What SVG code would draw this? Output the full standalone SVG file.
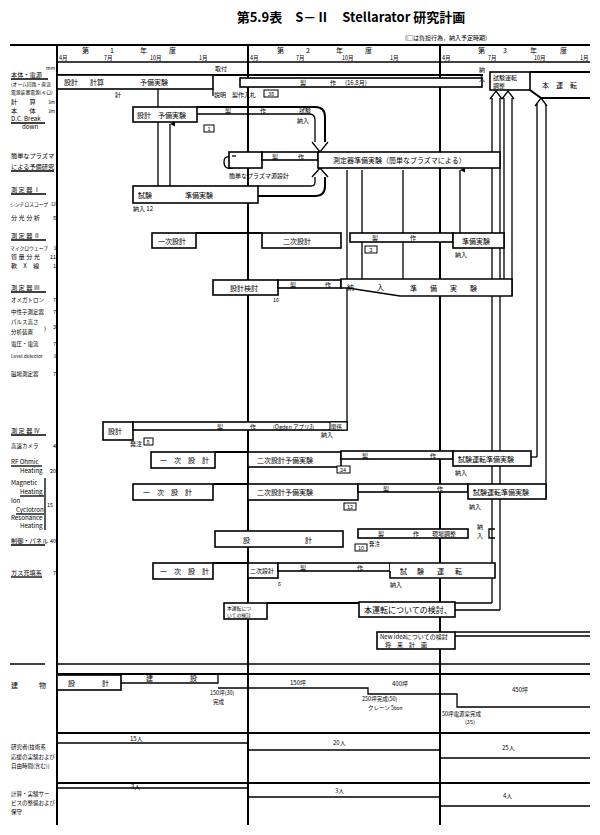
<svg xmlns="http://www.w3.org/2000/svg" width="600" height="835" viewBox="0 0 600 835">
<style>
.ln{stroke:#000;fill:none;stroke-width:1.3}
.tk{stroke:#000;fill:none;stroke-width:2}
.bx{fill:#fff;stroke:#000;stroke-width:1.6}
.sb{fill:#fff;stroke:#000;stroke-width:1}
text{font-family:"Noto Sans CJK JP","Noto Sans CJK SC",sans-serif;fill:#000;font-size:7px}
.s{font-size:5.5px}
.x{font-size:4.8px}
.m{font-size:6px}
.lb{font-size:6.2px}
.ti{font-size:13px;font-weight:bold}
.c{text-anchor:middle}
.e{text-anchor:end}
</style>
<defs>
<marker id="ua" viewBox="0 0 6 6" refX="3" refY="0" markerWidth="5" markerHeight="5" orient="auto-start-reverse" markerUnits="userSpaceOnUse">
<path d="M0,6 L3,0 L6,6 Z" fill="#000"/>
</marker>
</defs>
<rect width="600" height="835" fill="#fff"/>

<g id="title">
<text class="ti c" x="351" y="22">第5.9表　S－Ⅱ　Stellarator 研究計画</text>
<text class="m" x="405" y="40">(□は負担行為，納入予定時期)</text>
</g>

<g id="header">
<text x="82" y="53">第</text><text x="110" y="53">1</text><text x="140" y="53">年</text><text x="169" y="53">度</text>
<text x="277" y="53">第</text><text x="306" y="53">2</text><text x="336" y="53">年</text><text x="365" y="53">度</text>
<text x="478" y="53">第</text><text x="503" y="53">3</text><text x="530" y="53">年</text><text x="560" y="53">度</text>
<text class="s" x="59" y="60">4月</text><text class="s" x="104" y="60">7月</text><text class="s" x="150" y="60">10月</text><text class="s" x="199" y="60">1月</text>
<text class="s" x="250" y="60">4月</text><text class="s" x="296" y="60">7月</text><text class="s" x="342" y="60">10月</text><text class="s" x="390" y="60">1月</text>
<text class="s" x="442" y="60">4月</text><text class="s" x="488" y="60">7月</text><text class="s" x="534" y="60">10月</text><text class="s" x="580" y="60">1月</text>
</g>

<g id="connectors">
<path class="tk" d="M10,45 H590"/>
<path class="ln" d="M57,62 H590"/>
<path class="tk" d="M57,45 V825"/>
<path class="tk" d="M248,45 V825"/>
<path class="tk" d="M440,45 V825"/>
<path class="tk" d="M57,75 H483"/>
<path class="ln" d="M213,89 V96 M158,89 V107 M158,122 V186"/>
<path class="ln" d="M170,186 V124" marker-end="url(#ua)"/>
<path class="ln" d="M347,422 V170 M362,280 V170 M403,280 V170 M460,233 V170" marker-end="url(#ua)"/>
<path class="ln" d="M490,99 L496,91 L502,99 M492,98 V603 M500,98 V610"/>
<path class="ln" d="M502,99 L508,91 L514,99 M504,98 V279 M512,98 V296"/>
<path class="ln" d="M535,106 L541,98 L547,106 M537,104 V457 M546,104 V498"/>
<path class="ln" d="M531,457 H537"/>
<path class="ln" d="M495,529 H489 V538 H495"/>
<path class="ln" d="M455,603 H492 M455,610 H500"/>
<path class="tk" d="M197,107 H315 Q325,107 325,117 V142"/>
<path class="ln" d="M197,114 H309 Q315,114 315,120 V142"/>
<path class="ln" d="M312,142 L320,152 L328,142"/>
<path class="ln" d="M258,186 H311 Q315,186 315,182 V177"/>
<path class="tk" d="M258,196 H315 Q325,196 325,186 V177"/>
<path class="ln" d="M312,177 L320,168 L328,177"/>
<path class="ln" d="M233,168 Q224,170 224,162 Q224,156 229,157"/>
<path class="tk" d="M196,233 H262 M215,452 H248 M213,484 H248 M213,563 H248 M267,603 H359"/>
<path class="ln" d="M455,632 H590 M455,636 H590"/>
<path class="ln" d="M10,664 H45 M57,664 H590"/>
<path class="tk" d="M57,674 H590"/>
<path class="ln" d="M121,683 H218 V675 M218,688 H368 V694 H457 V707 H590"/>
<path class="tk" d="M57,733 H590"/>
<path class="ln" d="M57,743 H248 V750 H440 V758 H590"/>
<path class="tk" d="M57,783 H590"/>
<path class="ln" d="M57,788 H248 V797 H440 V806 H590"/>
<path class="ln" d="M45,478 V530"/>
</g>

<g id="labels">
<text class="x" x="46" y="70">mm</text>
<text class="lb" x="11" y="77">本体・電源</text><path class="ln" d="M11,79 H48"/>
<text class="x" x="11" y="86">(オーム回路・直流</text>
<text class="x" x="11" y="94">電源装置電源(キロ)</text>
<text class="lb" x="11" y="104">計　　算</text><text class="x e" x="55" y="104">3m</text>
<text class="lb" x="11" y="113">本　　体</text><text class="x e" x="55" y="113">3m</text>
<text class="lb" x="11" y="121">D.C. Break</text><path class="ln" d="M11,123 H45"/>
<text class="lb" x="22" y="129">down</text>
<text class="lb" x="11" y="158">簡単なプラズマ</text>
<text class="lb" x="11" y="169">による予備研究</text><path class="ln" d="M11,171 H54"/>
<text class="lb" x="11" y="192">測 定 器 Ⅰ</text><path class="ln" d="M11,194 H46"/>
<text class="x" x="10" y="206">シンチロスコープ</text><text class="x e" x="56" y="206">12</text>
<text class="lb" x="11" y="220">分 光 分 析</text><text class="s e" x="56" y="220">8</text>
<text class="lb" x="11" y="238">測 定 器 Ⅱ</text><path class="ln" d="M11,240 H46"/>
<text class="x" x="10" y="250">マイクロウェーブ</text><text class="x e" x="56" y="250">3</text>
<text class="lb" x="11" y="259">質 量 分 光</text><text class="s e" x="56" y="259">11</text>
<text class="lb" x="11" y="268">軟　X　線</text><text class="s e" x="56" y="268">1</text>
<text class="lb" x="11" y="290">測 定 器 Ⅲ</text><path class="ln" d="M11,292 H46"/>
<text class="s" x="11" y="302">オメガトロン</text><text class="s e" x="56" y="302">7</text>
<text class="s" x="11" y="314">中性子測定器</text><text class="s e" x="56" y="314">7</text>
<text class="s" x="11" y="324">パルス高さ</text>
<text class="s" x="11" y="334">分析装置</text><text class="m" x="44" y="331">)</text><text class="s e" x="56" y="329">3</text>
<text class="s" x="11" y="346">電圧・電流</text><text class="s e" x="56" y="346">7</text>
<text class="x" x="11" y="358">Level detector</text><text class="x e" x="56" y="358">3</text>
<text class="s" x="11" y="376">磁場測定器</text><text class="s e" x="56" y="376">7</text>
<text class="lb" x="11" y="433">測 定 器 Ⅳ</text><path class="ln" d="M11,435 H46"/>
<text class="s" x="11" y="448">高速カメラ</text><text class="s e" x="56" y="448">4</text>
<text class="lb" x="11" y="464">RF Ohmic</text><path class="ln" d="M11,466 H42"/>
<text class="lb" x="20" y="473">Heating</text><text class="s e" x="56" y="473">20</text>
<text class="lb" x="11" y="485">Magnetic</text>
<text class="lb" x="20" y="494">Heating</text><path class="ln" d="M20,496 H44"/>
<text class="lb" x="11" y="503">Ion</text>
<text class="lb" x="16" y="512">Cyclotron</text><path class="ln" d="M16,514 H44"/>
<text class="lb" x="11" y="520">Resonance</text>
<text class="lb" x="20" y="528">Heating</text>
<text class="s" x="47" y="507">15</text>
<text class="lb" x="11" y="543">制御・パネル</text><path class="ln" d="M11,545 H45"/><text class="s e" x="56" y="543">40</text>
<text class="lb" x="11" y="575">ガス充填系</text><path class="ln" d="M11,577 H42"/><text class="s e" x="56" y="575">7</text>
<text x="11" y="688">建　　　物</text>
<text class="s" x="11" y="749">研究者(技術系</text>
<text class="s" x="11" y="759">応援の実験および</text>
<text class="s" x="11" y="768">自由時間(含む))</text>
<text class="s" x="11" y="796">計算・実験サー</text>
<text class="s" x="11" y="805">ビスの整備および</text>
<text class="s" x="11" y="814">保守</text>
</g>

<g id="n-honntai">
<rect class="bx" x="57" y="75" width="156" height="14"/>
<text x="64" y="85">設計</text><text x="90" y="85">計算</text><text x="140" y="85">予備実験</text>
<text class="m" x="215" y="71">取付</text>
<text class="m" x="115" y="97">計</text>
<text class="m" x="214" y="97">説明</text><text class="m" x="232" y="97">製作入札</text>
<rect class="sb" x="264" y="90" width="14" height="7"/><text class="s c" x="271" y="96">38</text>
</g>
<g id="n-seisaku1">
<rect class="bx" x="240" y="78" width="242" height="9"/>
<text class="m" x="300" y="85">製</text><text class="m" x="330" y="85">作</text><text class="m" x="345" y="85">(16.8月)</text>
<text class="m" x="479" y="72">納</text><text class="m" x="479" y="81">入</text>
</g>
<g id="n-shiken-chosei">
<rect class="bx" x="490" y="72" width="40" height="18"/>
<text class="m" x="493" y="80">試験運転</text><text class="m" x="493" y="88">調整</text>
</g>
<g id="n-honunten">
<path class="tk" d="M530,72 H590"/>
<path class="tk" d="M530,90 L541,98 H590"/>
<text x="542" y="88">本　運　転</text>
</g>

<g id="n-dc">
<rect class="bx" x="133" y="107" width="64" height="15"/>
<text x="137" y="118">設計　予備実験</text>
<text class="m" x="225" y="113">製</text><text class="m" x="260" y="113">作</text><text class="m" x="299" y="113">試験</text>
<text class="m" x="297" y="123">納入</text>
<rect class="sb" x="204" y="125" width="10" height="7"/><text class="s c" x="209" y="131">1</text>
</g>
<g id="n-plasma">
<rect class="bx" x="229" y="152" width="33" height="16"/>
<path class="ln" d="M232,156 H236"/>
<rect class="bx" x="262" y="152" width="56" height="8"/>
<text class="m" x="272" y="159">製</text><text class="m" x="298" y="159">作</text>
<text class="m" x="229" y="178">簡単なプラズマ源設計</text>
</g>
<g id="n-sokutei-junbi">
<rect class="bx" x="318" y="152" width="182" height="16"/>
<text x="333" y="163">測定器準備実験（簡単なプラズマによる）</text>
</g>
<g id="n-shiken-junbi">
<rect class="bx" x="133" y="186" width="125" height="17"/>
<text x="138" y="198">試験</text><text x="185" y="198">準備実験</text>
<text class="m" x="133" y="211">納入 12</text>
</g>

<g id="n-row2">
<rect class="bx" x="152" y="233" width="44" height="15"/><text x="158" y="244">一次設計</text>
<rect class="bx" x="262" y="233" width="79" height="15"/><text x="283" y="244">二次設計</text>
<rect class="bx" x="350" y="233" width="103" height="9"/><text class="m" x="372" y="240">製</text><text class="m" x="410" y="240">作</text>
<rect class="sb" x="365" y="246" width="12" height="7"/><text class="s c" x="371" y="252">2</text>
<rect class="bx" x="453" y="233" width="51" height="15"/><text x="462" y="244">準備実験</text>
<text class="m" x="455" y="257">納入</text>
</g>

<g id="n-row3">
<rect class="bx" x="213" y="280" width="65" height="15"/><text x="230" y="291">設計検討</text>
<rect class="bx" x="278" y="280" width="63" height="8"/><text class="m" x="290" y="287">製</text><text class="m" x="325" y="287">作</text>
<text class="s" x="273" y="302">16</text>
<path class="bx" d="M341,279 H512 V296 H400 L348,288 H341 Z"/>
<text x="347" y="290">納</text><text x="377" y="290">入</text><text x="410" y="291">準</text><text x="430" y="291">備</text><text x="450" y="291">実</text><text x="470" y="291">験</text>
</g>

<g id="n-row4">
<rect class="bx" x="103" y="422" width="30" height="18"/><text x="108" y="434">設計</text>
<rect class="bx" x="133" y="422" width="214" height="8"/>
<text class="m" x="217" y="429">製</text><text class="m" x="250" y="429">作</text><text class="s" x="273" y="429">(Ogden アプリ3)</text>
<rect class="sb" x="330" y="422" width="17" height="8"/><text class="s" x="331" y="429">関係</text>
<text class="m" x="321" y="437">納入</text>
<text class="m" x="130" y="446">発注</text>
<rect class="sb" x="144" y="438" width="9" height="7"/><text class="s c" x="148" y="444">8</text>
</g>

<g id="n-rf">
<rect class="bx" x="151" y="452" width="64" height="16"/><text x="160" y="463">一　次　設　計</text>
<rect class="bx" x="248" y="452" width="93" height="15"/><text x="257" y="463">二次設計予備実験</text>
<rect class="bx" x="341" y="451" width="112" height="8"/><text class="m" x="362" y="458">製</text><text class="m" x="430" y="458">作</text>
<rect class="sb" x="337" y="466" width="13" height="7"/><text class="s c" x="343" y="472">24</text>
<rect class="bx" x="453" y="451" width="78" height="15"/><text x="458" y="462">試験運転準備実験</text>
<text class="m" x="455" y="475">納入</text>
</g>

<g id="n-magnetic">
<rect class="bx" x="133" y="484" width="80" height="16"/><text x="143" y="495">一　次　設　計</text>
<rect class="bx" x="248" y="484" width="110" height="16"/><text x="257" y="495">二次設計予備実験</text>
<rect class="bx" x="358" y="484" width="110" height="8"/><text class="m" x="383" y="491">製</text><text class="m" x="437" y="491">作</text>
<rect class="sb" x="344" y="503" width="12" height="7"/><text class="s c" x="350" y="509">12</text>
<rect class="bx" x="468" y="484" width="78" height="15"/><text x="473" y="495">試験運転準備実験</text>
<text class="m" x="469" y="509">納入</text>
</g>

<g id="n-control">
<rect class="bx" x="215" y="531" width="128" height="16"/><text x="243" y="543">設</text><text x="305" y="543">計</text>
<rect class="bx" x="358" y="529" width="110" height="9"/>
<text class="m" x="378" y="536">製</text><text class="m" x="413" y="536">作</text><text class="m" x="432" y="536">現場調整</text>
<rect class="sb" x="355" y="544" width="12" height="7"/><text class="s c" x="361" y="550">10</text>
<text class="s" x="369" y="546">発注</text>
<text class="m" x="477" y="529">納</text><text class="m" x="477" y="538">入</text>
</g>

<g id="n-gas">
<rect class="bx" x="153" y="563" width="60" height="16"/><text x="160" y="574">一　次　設　計</text>
<rect class="bx" x="248" y="563" width="30" height="15"/><text class="m" x="250" y="573">二次設計</text>
<rect class="bx" x="278" y="563" width="112" height="8"/><text class="m" x="300" y="570">製</text><text class="m" x="357" y="570">作</text>
<text class="s" x="278" y="586">6</text>
<path class="bx" d="M390,563 H495 V578 H390 V571"/>
<text x="400" y="574">試</text><text x="417" y="574">験</text><text x="437" y="574">運</text><text x="455" y="574">転</text>
<text class="m" x="390" y="587">納入</text>
</g>

<g id="n-kento1">
<rect class="bx" x="224" y="603" width="43" height="16"/>
<text class="x" x="227" y="609.5">本運転につ</text><text class="x" x="227" y="617">いての検討</text>
</g>
<g id="n-kento2">
<rect class="bx" x="359" y="602" width="96" height="15"/>
<text style="font-size:8px" x="364" y="613">本運転についての検討、</text>
</g>
<g id="n-newidea">
<rect class="bx" x="377" y="632" width="78" height="17"/>
<text class="m" x="380" y="639">New ideaについての検討</text>
<text class="m" x="385" y="647">将　来　計　画</text>
</g>

<g id="n-building">
<rect class="bx" x="57" y="675" width="64" height="15"/>
<text x="68" y="686">設</text><text x="102" y="686">計</text>
<text x="146" y="681">建</text><text x="190" y="681">設</text>
<text class="m" x="290" y="685">150坪</text>
<text class="m" x="392" y="686">400坪</text>
<text class="m" x="512" y="692">450坪</text>
<text class="s" x="210" y="695">150坪(30)</text><text class="s" x="213" y="704">完成</text>
<text class="s" x="362" y="701">250坪完成(50)</text><text class="s" x="368" y="710">クレーン 5ton</text>
<text class="s" x="442" y="716">50坪電源室完成</text><text class="s" x="465" y="724">(35)</text>
</g>

<g id="n-staff">
<text class="m" x="130" y="741">15人</text>
<text class="m" x="333" y="745">20人</text>
<text class="m" x="502" y="750">25人</text>
<text class="m" x="131" y="789">3人</text>
<text class="m" x="335" y="793">3人</text>
<text class="m" x="503" y="798">4人</text>
</g>
</svg>
